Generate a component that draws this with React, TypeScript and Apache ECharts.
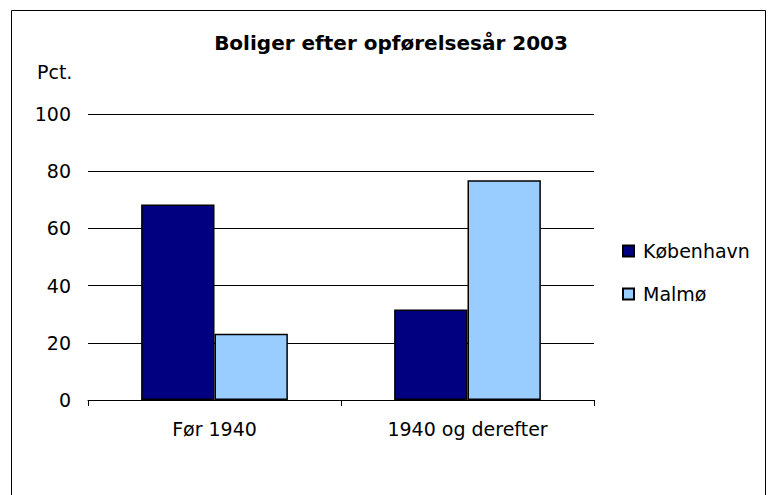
import React, { useEffect, useRef } from "react";
import * as echarts from "echarts";

const categories = ["Før 1940", "1940 og derefter"];
const kobenhavn = [68.4, 31.6];
const malmo = [23.2, 76.8];
const yTicks = [0, 20, 40, 60, 80, 100];

const FONT = "'DejaVu Sans', 'Liberation Sans', Arial, sans-serif";

export default function App() {
  const ref = useRef<HTMLDivElement>(null);
  useEffect(() => {
    const chart = echarts.init(ref.current!, null, { renderer: "svg" });
    chart.setOption({
      animation: false,
      backgroundColor: "#ffffff",
      textStyle: { fontFamily: FONT },
      title: {
        text: "Boliger efter opførelsesår 2003",
        left: 391,
        top: 33,
        padding: 0,
        textAlign: "center",
        textStyle: { fontFamily: FONT, fontSize: 20, fontWeight: "bold", color: "#000" },
      },
      graphic: [
        {
          type: "rect",
          shape: { x: 11.5, y: 10.5, width: 754, height: 500 },
          style: { fill: "none", stroke: "#000", lineWidth: 1 },
          silent: true,
        },
        {
          type: "text",
          x: 37,
          y: 72,
          style: { text: "Pct.", font: `19px ${FONT}`, fill: "#000", verticalAlign: "middle" },
        },
      ],
      legend: {
        orient: "vertical",
        left: 622,
        top: 241,
        itemGap: 23,
        itemWidth: 11,
        itemHeight: 11,
        icon: "rect",
        padding: 0,
        textStyle: { fontFamily: FONT, fontSize: 19, lineHeight: 20, color: "#000", padding: [0, 0, 0, 4] },
        data: ["København", "Malmø"],
      },
      grid: { left: 88, right: 176, top: 114, bottom: 95, containLabel: false },
      xAxis: {
        type: "category",
        data: categories,
        axisLine: { show: true, lineStyle: { color: "#000", width: 1 } },
        axisTick: { show: true, length: 6, lineStyle: { color: "#000" } },
        axisLabel: { fontFamily: FONT, fontSize: 19, color: "#000", margin: 19 },
      },
      yAxis: {
        type: "value",
        min: yTicks[0],
        max: yTicks[yTicks.length - 1],
        interval: 20,
        axisLine: { show: false },
        axisTick: { show: false },
        splitLine: { show: true, lineStyle: { color: "#000", width: 1 } },
        axisLabel: { fontFamily: FONT, fontSize: 19, color: "#000", margin: 17, padding: [0, 0, 5, 0] },
      },
      series: [
        {
          name: "København",
          type: "bar",
          data: kobenhavn,
          barGap: "0%",
          barCategoryGap: "42%",
          itemStyle: { color: "#000080", borderColor: "#000", borderWidth: 1.5 },
        },
        {
          name: "Malmø",
          type: "bar",
          data: malmo,
          barGap: "0%",
          barCategoryGap: "42%",
          itemStyle: { color: "#99ccff", borderColor: "#000", borderWidth: 1.5 },
        },
      ],
    });
    return () => chart.dispose();
  }, []);
  return (
    <div
      ref={ref}
      style={{ position: "absolute", left: 0, top: 0, width: 770, height: 495 }}
    />
  );
}
